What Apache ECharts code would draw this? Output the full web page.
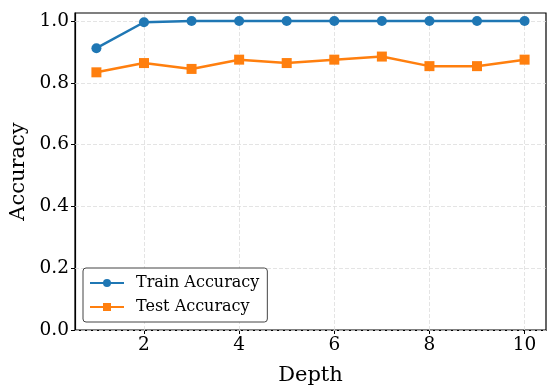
<!DOCTYPE html>
<html><head><meta charset="utf-8">
<script src="https://cdn.jsdelivr.net/npm/echarts@6/dist/echarts.min.js"></script>
<style>html,body{margin:0;padding:0;background:#fff}#c{width:548px;height:386px}</style>
</head><body><div id="c"></div>
<script>
const depths = [1,2,3,4,5,6,7,8,9,10];
const trainAcc = [0.912,0.996,1.0,1.0,1.0,1.0,1.0,1.0,1.0,1.0];
const testAcc = [0.834,0.864,0.845,0.875,0.864,0.875,0.885,0.854,0.854,0.875];
const xTicks = [2,4,6,8,10];
const yTicks = [0,0.2,0.4,0.6,0.8,1.0];
const FONT = 'DejaVu Serif';

const chart = echarts.init(document.getElementById('c'));
const gridLine = {color:'#dddddd', type:[4,2], width:0.8};
chart.setOption({
  animation:false,
  grid:{left:75, right:2, top:13, bottom:56, show:true, borderColor:'#000', borderWidth:1.2,
    containLabel:false, outerBoundsMode:'none'},
  legend:{
    left:83, bottom:64, orient:'vertical', padding:[7,8,7,6], itemGap:8,
    itemWidth:34, itemHeight:10,
    borderColor:'#444', borderWidth:1, borderRadius:3, backgroundColor:'#fff',
    textStyle:{fontFamily:FONT, fontSize:16, color:'#000', padding:[0,0,0,7]},
    data:['Train Accuracy','Test Accuracy']
  },
  xAxis:{
    type:'value', min:0.55, max:10.45,
    name:'Depth', nameLocation:'middle', nameGap:35,
    nameTextStyle:{fontFamily:FONT, fontSize:21, color:'#000'},
    axisLine:{show:true, lineStyle:{color:'#000', width:1.2}},
    axisTick:{show:true, customValues:xTicks, length:4, lineStyle:{color:'#000'}},
    axisLabel:{customValues:xTicks, fontFamily:FONT, fontSize:18.5, color:'#000', margin:6},
    splitLine:{show:false}
  },
  yAxis:{
    type:'value', min:0, max:1.026,
    name:'Accuracy', nameLocation:'middle', nameGap:45,
    nameTextStyle:{fontFamily:FONT, fontSize:21, color:'#000'},
    axisLine:{show:true, lineStyle:{color:'#000', width:1.2}},
    axisTick:{show:true, customValues:yTicks, length:4, lineStyle:{color:'#000'}},
    axisLabel:{customValues:yTicks, fontFamily:FONT, fontSize:18.5, color:'#000', margin:6,
      formatter:v=>v.toFixed(1)},
    splitLine:{show:false}
  },
  series:[
    {
      name:'grid', type:'line', data:[], z:1, silent:true,
      markLine:{silent:true, symbol:'none', label:{show:false}, animation:false, z:1,
        lineStyle:gridLine,
        data:xTicks.map(v=>({xAxis:v})).concat(yTicks.map(v=>({yAxis:v})))}
    },
    {
      name:'Train Accuracy', type:'line', data:depths.map((d,i)=>[d,trainAcc[i]]),
      symbol:'circle', symbolSize:10, z:3,
      lineStyle:{color:'#1f77b4', width:2.5}, itemStyle:{color:'#1f77b4'}
    },
    {
      name:'Test Accuracy', type:'line', data:depths.map((d,i)=>[d,testAcc[i]]),
      symbol:'rect', symbolSize:10, z:3,
      lineStyle:{color:'#ff7f0e', width:2.5}, itemStyle:{color:'#ff7f0e'}
    }
  ]
});
</script></body></html>
